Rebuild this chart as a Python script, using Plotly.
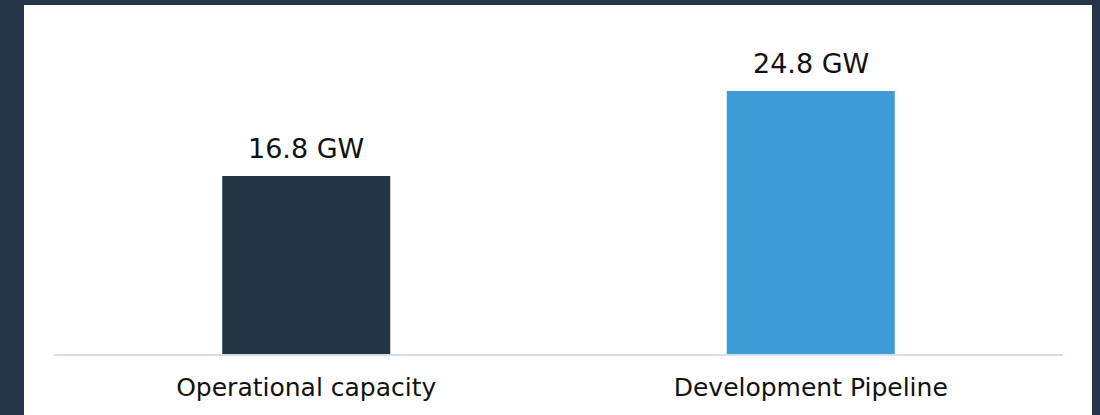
import plotly.graph_objects as go

categories = ["Operational capacity", "Development Pipeline"]
values = [16.8, 24.8]
value_labels = ["16.8 GW", "24.8 GW"]
colors = ["#253445", "#3d9bd7"]

W, H = 1100, 415
ml, mr, mt, mb = 54, 37, 35, 61
plot_w = W - ml - mr
plot_h = H - mt - mb
px_per_unit = 10.6
ymax = plot_h / px_per_unit

fig = go.Figure()
fig.add_trace(go.Bar(
    x=categories, y=values, marker=dict(color=colors, line=dict(width=0)),
    width=0.333, hoverinfo="skip", showlegend=False,
))

for c, v, t in zip(categories, values, value_labels):
    fig.add_annotation(x=c, y=v, text=t, showarrow=False, yanchor="bottom",
                       yshift=10, font=dict(family="DejaVu Sans", size=27, color="#111111"))

def px_to_paper_x(px):
    return (px - ml) / plot_w

def px_to_paper_y(py):
    return (H - mb - py) / plot_h

fig.add_shape(type="rect", xref="paper", yref="paper", layer="below",
              x0=px_to_paper_x(24), x1=px_to_paper_x(1092),
              y0=px_to_paper_y(420), y1=px_to_paper_y(5),
              fillcolor="white", line=dict(width=0))

fig.update_layout(
    width=W, height=H,
    margin=dict(l=ml, r=mr, t=mt, b=mb),
    paper_bgcolor="#253446", plot_bgcolor="rgba(0,0,0,0)",
    bargap=0.667,
    xaxis=dict(showline=True, linecolor="#d5dfe9", linewidth=2, showgrid=False,
               ticks="", ticklabelstandoff=10,
               tickfont=dict(family="DejaVu Sans", size=25, color="#111111"),
               fixedrange=True),
    yaxis=dict(range=[0, ymax], visible=False, showgrid=False, zeroline=False,
               fixedrange=True),
)

fig.write_html("out.html", config={"displayModeBar": False},
               post_script="document.body.style.margin='0';document.body.style.overflow='hidden';")
